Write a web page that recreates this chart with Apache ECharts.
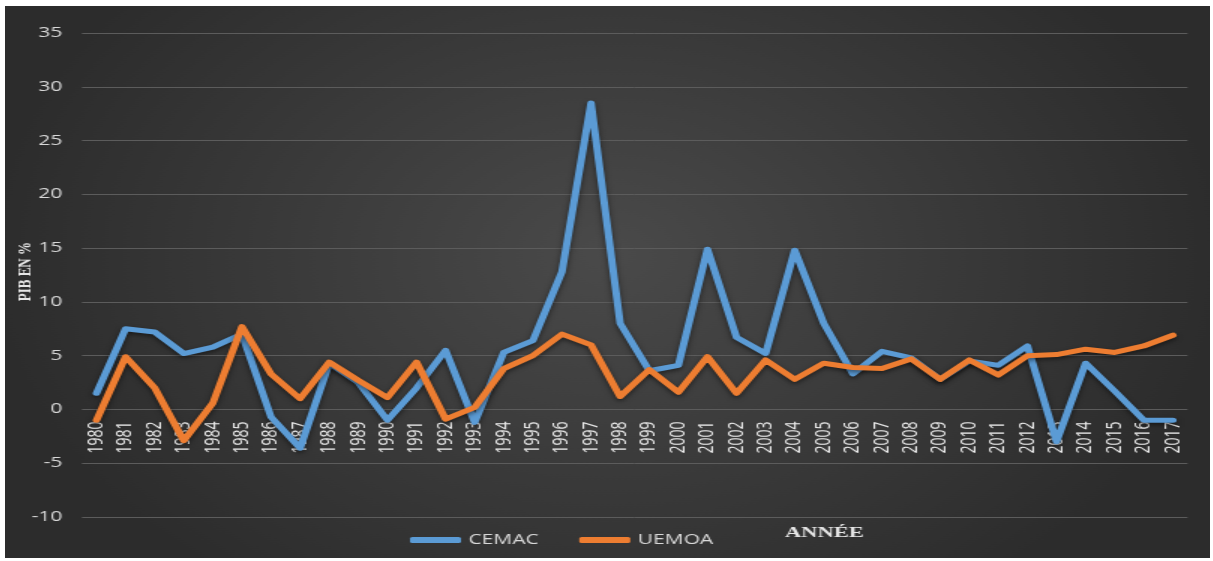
<!DOCTYPE html>
<html>
<head>
<meta charset="utf-8">
<script src="https://cdn.jsdelivr.net/npm/echarts@6/dist/echarts.min.js"></script>
<style>
html,body{margin:0;padding:0;background:#fff;width:1213px;height:561px;overflow:hidden;}
#c{position:absolute;left:5px;top:6px;width:802.67px;height:552px;transform:scaleX(1.5);transform-origin:0 0;}
</style>
</head>
<body>
<div id="c"></div>
<script>
var years = ['1980','1981','1982','1983','1984','1985','1986','1987','1988','1989','1990','1991','1992','1993','1994','1995','1996','1997','1998','1999','2000','2001','2002','2003','2004','2005','2006','2007','2008','2009','2010','2011','2012','2013','2014','2015','2016','2017'];
var cemac = [1.5,7.5,7.2,5.2,5.8,7.0,-0.7,-3.6,4.3,2.5,-1.0,2.0,5.5,-1.2,5.3,6.4,12.8,28.5,8.0,3.6,4.1,14.9,6.7,5.2,14.8,8.0,3.3,5.4,4.8,2.8,4.5,4.1,5.9,-3.0,4.3,1.7,-1.0,-1.0];
var uemoa = [-1.0,4.9,2.0,-2.9,0.6,7.7,3.3,1.0,4.4,2.7,1.1,4.4,-0.9,0.2,3.8,5.0,7.0,6.0,1.2,3.7,1.6,4.9,1.5,4.6,2.8,4.3,3.9,3.8,4.7,2.8,4.6,3.2,5.0,5.1,5.6,5.3,5.9,6.9];
var seriesNames = ['CEMAC','UEMOA'];
var yTicks = {min:-10, max:35, interval:5};

var gridTop = 27, gridBottom = 41, H = 552;
var plotH = H - gridTop - gridBottom;
var zeroOffset = -plotH * (0 - yTicks.min) / (yTicks.max - yTicks.min);

var chart = echarts.init(document.getElementById('c'), null, {renderer:'canvas'});
chart.setOption({
  backgroundColor: {
    type:'radial', x:0.5, y:0.45, r:0.75,
    colorStops:[{offset:0,color:'#4a4a4a'},{offset:1,color:'#2c2c2c'}]
  },
  animation:false,
  grid:{left:51.3, right:14.7, top:gridTop, bottom:gridBottom, containLabel:false, outerBoundsMode:'none'},
  legend:{
    data:seriesNames, top:527, left:270, itemGap:27, padding:0,
    itemWidth:34, itemHeight:6, icon:'roundRect',
    textStyle:{color:'#d9d9d9', fontSize:14, fontFamily:'Open Sans'}
  },
  graphic:[
    {type:'text', left:520, top:520, style:{text:'ANNÉE', fill:'#e6e6e6', font:'bold 15px "Liberation Serif", serif'}},
    {type:'text', left:7, top:236, rotation:Math.PI/2,
     style:{text:'PIB EN %', fill:'#e6e6e6', font:'bold 13px "Liberation Serif", serif'}}
  ],
  xAxis:{
    type:'category', data:years, boundaryGap:true, position:'bottom', offset:zeroOffset,
    axisLine:{show:false, onZero:false}, axisTick:{show:false},
    axisLabel:{rotate:90, color:'#ececec', fontSize:14, fontFamily:'Open Sans', margin:12, interval:0},
    splitLine:{show:false}
  },
  yAxis:{
    type:'value', min:yTicks.min, max:yTicks.max, interval:yTicks.interval,
    axisLine:{show:false}, axisTick:{show:false},
    axisLabel:{color:'#d9d9d9', fontSize:14, fontFamily:'Open Sans', margin:13},
    splitLine:{lineStyle:{color:'#5c5c5c', width:1}}
  },
  series:[
    {name:seriesNames[0], type:'line', data:cemac, symbol:'none', z:2,
     lineStyle:{color:'#5b9bd5', width:5, cap:'round', join:'round', shadowColor:'rgba(0,0,0,0.5)', shadowBlur:4, shadowOffsetY:2},
     itemStyle:{color:'#5b9bd5'}},
    {name:seriesNames[1], type:'line', data:uemoa, symbol:'none', z:3,
     lineStyle:{color:'#ed7d31', width:5, cap:'round', join:'round', shadowColor:'rgba(0,0,0,0.5)', shadowBlur:4, shadowOffsetY:2},
     itemStyle:{color:'#ed7d31'}}
  ]
});
</script>
</body>
</html>
